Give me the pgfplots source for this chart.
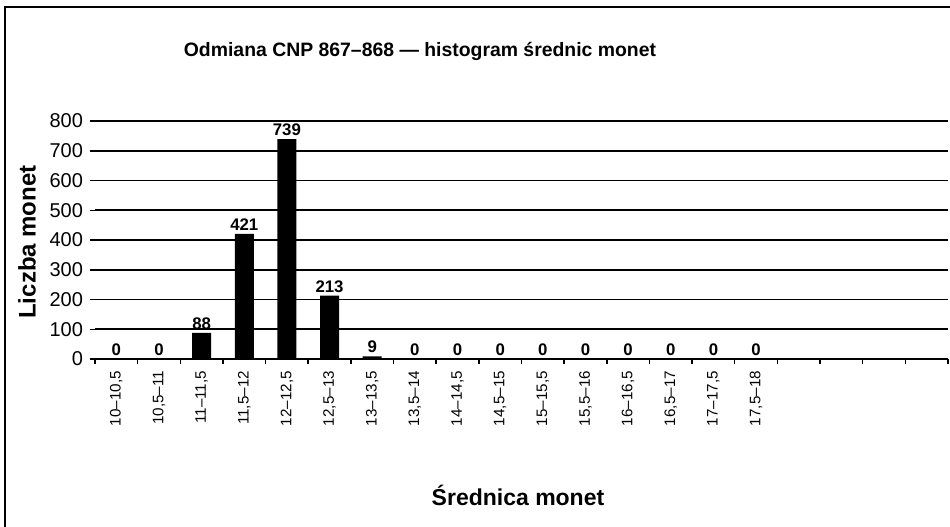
\documentclass[border=0pt]{standalone}
\usepackage{fontspec}
\setmainfont{Liberation Sans}
\usepackage{pgfplots}
\pgfplotsset{compat=1.18}
\begin{document}
\begin{tikzpicture}[x=0.5pt,y=0.5pt]
\useasboundingbox (0,0) rectangle (950,526);
\draw[line width=0.8pt] (5,-10) -- (5,519) -- (960,519);
\node[font=\bfseries\fontsize{9.7}{11}\selectfont] at (420,475) {Odmiana CNP 867–868 — histogram średnic monet};
\node[font=\bfseries\fontsize{11.5}{13}\selectfont] at (518,31) {Średnica monet};
\node[font=\bfseries\fontsize{12}{13}\selectfont, rotate=90] at (27,284) {Liczba monet};
\begin{axis}[
  at={(47.5pt,83.5pt)}, anchor=south west,
  width=426.5pt, height=119pt, scale only axis,
  xmin=-0.5, xmax=19.5, ymin=0, ymax=800,
  ytick={0,100,...,800},
  xtick={0,...,15},
  xticklabels={{10–10,5},{10,5–11},{11–11,5},{11,5–12},{12–12,5},{12,5–13},{13–13,5},{13,5–14},{14–14,5},{14,5–15},{15–15,5},{15,5–16},{16–16,5},{16,5–17},{17–17,5},{17,5–18}},
  minor xtick={-0.5,0.5,...,19.5},
  major x tick style={draw=none},
  minor x tick style={black, line width=0.75pt},
  y tick style={black, line width=0.75pt},
  major tick length=2.5pt, minor tick length=2.5pt,
  tick align=outside,
  ymajorgrids, grid style={black, line width=0.8pt},
  axis x line*=bottom, axis y line*=left,
  x axis line style={line width=1pt, -}, y axis line style={draw=none, -},
  yticklabel style={font=\fontsize{10}{11}\selectfont},
  xticklabel style={rotate=90, anchor=east, font=\fontsize{7.6}{9}\selectfont},
  /pgf/number format/assume math mode=true,
  ybar, bar width=9.5pt,
  nodes near coords,
  every node near coord/.append style={font=\bfseries\fontsize{8.4}{9}\selectfont, black, inner sep=1.5pt},
]
\addplot[fill=black, draw=none] coordinates {
  (0,0)(1,0)(2,88)(3,421)(4,739)(5,213)(6,9)(7,0)
  (8,0)(9,0)(10,0)(11,0)(12,0)(13,0)(14,0)(15,0)};
\end{axis}
\end{tikzpicture}
\end{document}
